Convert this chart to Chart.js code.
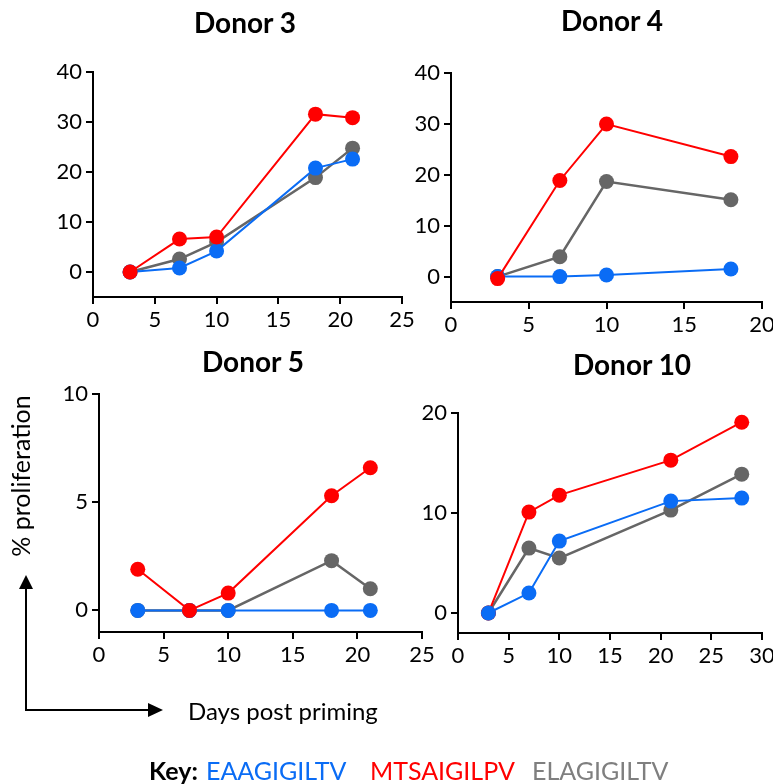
<!DOCTYPE html>
<html lang="en">
<head>
<meta charset="UTF-8">
<title>% proliferation by donor</title>
<script src="https://cdn.jsdelivr.net/npm/chart.js"></script>
<style>
  html, body {
    margin: 0;
    width: 773px;
    height: 784px;
    overflow: hidden;
    background: #fff;
    font-family: Lato, sans-serif;
  }
  canvas { position: absolute; }
  #overlay { position: absolute; left: 0; top: 0; }
  #overlay text { font-family: Lato, sans-serif; }
</style>
</head>
<body>
<canvas id="d3"></canvas>
<canvas id="d4"></canvas>
<canvas id="d5"></canvas>
<canvas id="d10"></canvas>

<svg id="overlay" width="773" height="784">
  <text x="245" y="33" font-size="28" font-weight="bold" text-anchor="middle">Donor 3</text>
  <text x="612" y="31" font-size="28" font-weight="bold" text-anchor="middle">Donor 4</text>
  <text x="253" y="372" font-size="28" font-weight="bold" text-anchor="middle">Donor 5</text>
  <text x="632" y="375" font-size="28" font-weight="bold" text-anchor="middle">Donor 10</text>

  <text transform="translate(30,476) rotate(-90)" font-size="25" text-anchor="middle">% proliferation</text>
  <path d="M26 711 V588 M25 710 H149" stroke="#000" stroke-width="2" fill="none"/>
  <polygon points="26,575 19,589 33,589" fill="#000"/>
  <polygon points="163,710 148,703 148,717" fill="#000"/>
  <text x="188" y="720" font-size="24">Days post priming</text>

  <text x="149" y="780" font-size="25" font-weight="bold">Key:</text>
  <text x="206" y="780" font-size="25" fill="#0a6cf5">EAAGIGILTV</text>
  <text x="370" y="780" font-size="25" fill="#ff0000">MTSAIGILPV</text>
  <text x="532" y="780" font-size="25" fill="#7f7f7f">ELAGIGILTV</text>
</svg>

<script>
  // peptide colours
  const BLUE = '#0a6cf5', RED = '#ff0000', GRAY = '#666666';

  // Donor 3
  const days3 = [3, 7, 10, 18, 21];
  const blue3 = [0, 0.8, 4.2, 20.8, 22.6];
  const red3  = [0, 6.6, 7.0, 31.6, 30.9];
  const gray3 = [0, 2.6, 6.0, 18.9, 24.8];
  const xTicks3 = [0, 5, 10, 15, 20, 25];
  const yTicks3 = [0, 10, 20, 30, 40];

  // Donor 4
  const days4 = [3, 7, 10, 18];
  const blue4 = [0, 0, 0.3, 1.5];
  const red4  = [-0.4, 18.9, 30.0, 23.6];
  const gray4 = [0, 3.9, 18.7, 15.1];
  const xTicks4 = [0, 5, 10, 15, 20];
  const yTicks4 = [0, 10, 20, 30, 40];

  // Donor 5
  const days5 = [3, 7, 10, 18, 21];
  const blue5 = [0, 0, 0, 0, 0];
  const red5  = [1.9, 0, 0.8, 5.3, 6.6];
  const gray5 = [0, 0, 0, 2.3, 1.0];
  const xTicks5 = [0, 5, 10, 15, 20, 25];
  const yTicks5 = [0, 5, 10];

  // Donor 10
  const days10 = [3, 7, 10, 21, 28];
  const blue10 = [0, 2.0, 7.2, 11.2, 11.5];
  const red10  = [0, 10.1, 11.8, 15.3, 19.1];
  const gray10 = [0, 6.5, 5.5, 10.3, 13.9];
  const xTicks10 = [0, 5, 10, 15, 20, 25, 30];
  const yTicks10 = [0, 10, 20];

  const Y_W = 45, X_H = 40, PAD_T = 15, PAD_R = 22;
  const tickFont = { family: 'Lato', size: 22 };

  function series(days, vals) {
    return days.map((d, i) => ({ x: d, y: vals[i] }));
  }

  function line(vals, days, color, width, order) {
    return {
      data: series(days, vals),
      borderColor: color,
      backgroundColor: color,
      borderWidth: width,
      pointRadius: 7.5,
      pointBorderWidth: 0,
      pointBackgroundColor: color,
      tension: 0,
      order: order
    };
  }

  function axis(min, max, ticks, isX) {
    return {
      type: 'linear',
      min: min,
      max: max,
      afterBuildTicks: s => { s.ticks = ticks.map(v => ({ value: v })); },
      afterFit: s => { if (isX) s.height = X_H; else s.width = Y_W; },
      border: { display: true, color: '#000', width: 2 },
      grid: { display: true, drawOnChartArea: false, drawTicks: true, tickLength: 7, color: '#000', lineWidth: 2 },
      ticks: { color: '#000', font: tickFont, padding: isX ? 3 : 4, maxRotation: 0, autoSkip: false }
    };
  }

  // box = pixel rectangle of the plot area on the page
  function panel(id, box, datasets, xMax, yMin, yMax, xTicks, yTicks) {
    const cv = document.getElementById(id);
    cv.width = Y_W + (box.r - box.l) + PAD_R;
    cv.height = PAD_T + (box.b - box.t) + X_H;
    cv.style.left = (box.l - Y_W) + 'px';
    cv.style.top = (box.t - PAD_T) + 'px';
    new Chart(cv, {
      type: 'line',
      data: { datasets },
      options: {
        responsive: false,
        animation: false,
        layout: { padding: { top: PAD_T, right: PAD_R, left: 0, bottom: 0 } },
        plugins: { legend: { display: false }, tooltip: { enabled: false } },
        scales: {
          x: axis(0, xMax, xTicks, true),
          y: axis(yMin, yMax, yTicks, false)
        }
      }
    });
  }

  panel('d3', { l: 93, t: 70, r: 402, b: 297 }, [
    line(gray3, days3, GRAY, 2.5, 3),
    line(blue3, days3, BLUE, 2, 2),
    line(red3, days3, RED, 2, 1)
  ], 25, -5, 40, xTicks3, yTicks3);

  panel('d4', { l: 451, t: 71, r: 762, b: 302 }, [
    line(gray4, days4, GRAY, 2.5, 3),
    line(blue4, days4, BLUE, 2, 2),
    line(red4, days4, RED, 2, 1)
  ], 20, -5, 40, xTicks4, yTicks4);

  panel('d5', { l: 99, t: 392, r: 422, b: 632 }, [
    line(gray5, days5, GRAY, 2.5, 3),
    line(blue5, days5, BLUE, 2, 2),
    line(red5, days5, RED, 2, 1)
  ], 25, -1, 10, xTicks5, yTicks5);

  panel('d10', { l: 458, t: 411, r: 762, b: 633 }, [
    line(gray10, days10, GRAY, 2.5, 3),
    line(blue10, days10, BLUE, 2, 1),
    line(red10, days10, RED, 2, 2)
  ], 30, -2, 20, xTicks10, yTicks10);
</script>
</body>
</html>
